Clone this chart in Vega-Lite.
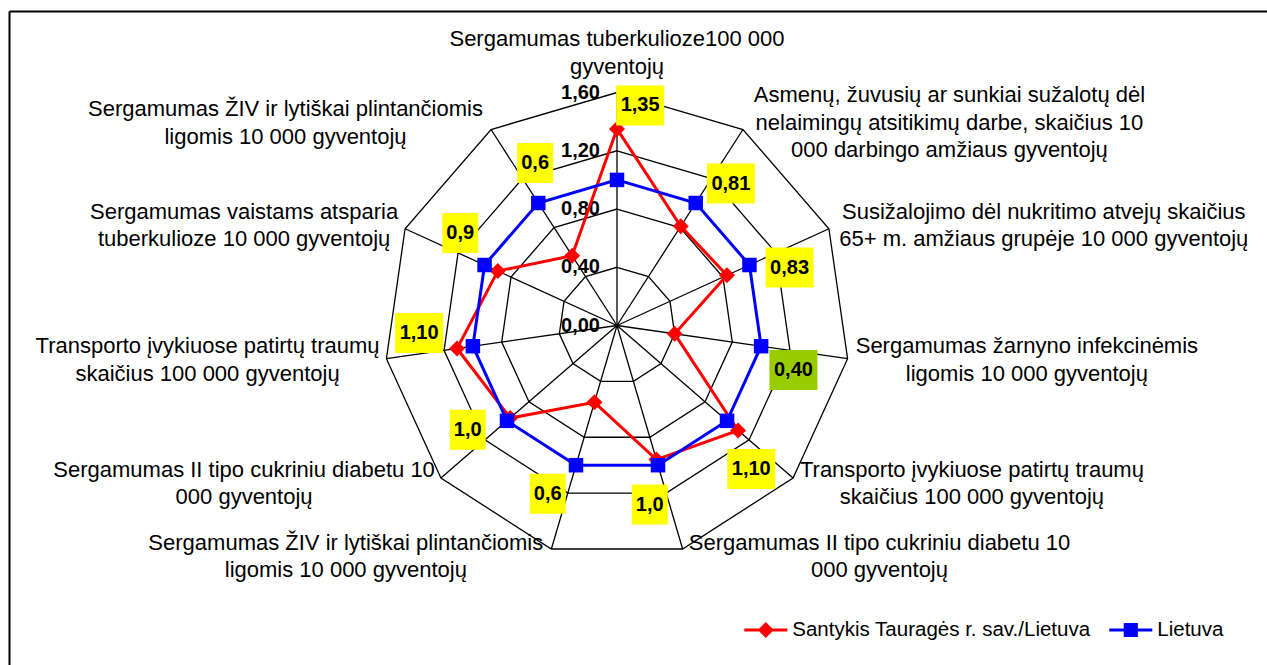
{
  "$schema": "https://vega.github.io/schema/vega-lite/v6.json",
  "width": 1258,
  "height": 654,
  "autosize": {"type": "none"},
  "padding": {"left": 9, "top": 11, "right": 0, "bottom": 0},
  "background": "white",
  "config": {"view": {"stroke": null}, "font": "Liberation Sans"},
  "datasets": {
    "cats": [
      {"idx": 0, "lines": ["Sergamumas tuberkulioze100 000", "gyventojų"]},
      {"idx": 1, "lines": ["Asmenų, žuvusių ar sunkiai sužalotų dėl", "nelaimingų atsitikimų darbe, skaičius 10", "000 darbingo amžiaus gyventojų"]},
      {"idx": 2, "lines": ["Susižalojimo dėl nukritimo atvejų skaičius", "65+ m. amžiaus grupėje 10 000 gyventojų"]},
      {"idx": 3, "lines": ["Sergamumas žarnyno infekcinėmis", "ligomis 10 000 gyventojų"]},
      {"idx": 4, "lines": ["Transporto įvykiuose patirtų traumų", "skaičius 100 000 gyventojų"]},
      {"idx": 5, "lines": ["Sergamumas II tipo cukriniu diabetu 10", "000 gyventojų"]},
      {"idx": 6, "lines": ["Sergamumas ŽIV ir lytiškai plintančiomis", "ligomis 10 000 gyventojų"]},
      {"idx": 7, "lines": ["Sergamumas II tipo cukriniu diabetu 10", "000 gyventojų"]},
      {"idx": 8, "lines": ["Transporto įvykiuose patirtų traumų", "skaičius 100 000 gyventojų"]},
      {"idx": 9, "lines": ["Sergamumas vaistams atsparia", "tuberkulioze 10 000 gyventojų"]},
      {"idx": 10, "lines": ["Sergamumas ŽIV ir lytiškai plintančiomis", "ligomis 10 000 gyventojų"]}
    ],
    "values": [
      {"series": "Santykis Tauragės r. sav./Lietuva", "idx": 0, "value": 1.35, "label": "1,35"},
      {"series": "Santykis Tauragės r. sav./Lietuva", "idx": 1, "value": 0.81, "label": "0,81"},
      {"series": "Santykis Tauragės r. sav./Lietuva", "idx": 2, "value": 0.83, "label": "0,83"},
      {"series": "Santykis Tauragės r. sav./Lietuva", "idx": 3, "value": 0.40, "label": "0,40"},
      {"series": "Santykis Tauragės r. sav./Lietuva", "idx": 4, "value": 1.10, "label": "1,10"},
      {"series": "Santykis Tauragės r. sav./Lietuva", "idx": 5, "value": 0.96, "label": "1,0"},
      {"series": "Santykis Tauragės r. sav./Lietuva", "idx": 6, "value": 0.55, "label": "0,6"},
      {"series": "Santykis Tauragės r. sav./Lietuva", "idx": 7, "value": 0.97, "label": "1,0"},
      {"series": "Santykis Tauragės r. sav./Lietuva", "idx": 8, "value": 1.11, "label": "1,10"},
      {"series": "Santykis Tauragės r. sav./Lietuva", "idx": 9, "value": 0.90, "label": "0,9"},
      {"series": "Santykis Tauragės r. sav./Lietuva", "idx": 10, "value": 0.57, "label": "0,6"},
      {"series": "Lietuva", "idx": 0, "value": 1.0},
      {"series": "Lietuva", "idx": 1, "value": 1.0},
      {"series": "Lietuva", "idx": 2, "value": 1.0},
      {"series": "Lietuva", "idx": 3, "value": 1.0},
      {"series": "Lietuva", "idx": 4, "value": 1.0},
      {"series": "Lietuva", "idx": 5, "value": 1.0},
      {"series": "Lietuva", "idx": 6, "value": 1.0},
      {"series": "Lietuva", "idx": 7, "value": 1.0},
      {"series": "Lietuva", "idx": 8, "value": 1.0},
      {"series": "Lietuva", "idx": 9, "value": 1.0},
      {"series": "Lietuva", "idx": 10, "value": 1.0}
    ],
    "rings": [
      {"level": 0.4, "idx": [0, 1, 2, 3, 4, 5, 6, 7, 8, 9, 10]},
      {"level": 0.8, "idx": [0, 1, 2, 3, 4, 5, 6, 7, 8, 9, 10]},
      {"level": 1.2, "idx": [0, 1, 2, 3, 4, 5, 6, 7, 8, 9, 10]},
      {"level": 1.6, "idx": [0, 1, 2, 3, 4, 5, 6, 7, 8, 9, 10]}
    ],
    "ticks": [{"tick": 0}, {"tick": 0.4}, {"tick": 0.8}, {"tick": 1.2}, {"tick": 1.6}]
  },
  "encoding": {
    "x": {
      "field": "x", "type": "quantitative",
      "scale": {"domain": [-4.17582, 4.46429], "nice": false, "zero": false},
      "axis": {"orient": "top", "ticks": false, "labels": false, "grid": false, "title": null, "domainColor": "black", "domainWidth": 2}
    },
    "y": {
      "field": "y", "type": "quantitative",
      "scale": {"domain": [-2.33173, 2.16003], "nice": false, "zero": false},
      "axis": {"orient": "left", "ticks": false, "labels": false, "grid": false, "title": null, "domainColor": "black", "domainWidth": 2}
    }
  },
  "layer": [
    {
      "data": {"name": "rings"},
      "transform": [
        {"flatten": ["idx"]},
        {"calculate": "datum.idx*2*PI/11", "as": "th"},
        {"calculate": "datum.level*sin(datum.th)", "as": "x"},
        {"calculate": "datum.level*cos(datum.th)", "as": "y"}
      ],
      "mark": {"type": "line", "interpolate": "linear-closed", "stroke": "black", "strokeWidth": 1.3},
      "encoding": {"detail": {"field": "level", "type": "nominal"}, "order": {"field": "idx", "type": "quantitative"}}
    },
    {
      "data": {"name": "cats"},
      "transform": [
        {"calculate": "datum.idx*2*PI/11", "as": "th"},
        {"calculate": "1.6*sin(datum.th)", "as": "x"},
        {"calculate": "1.6*cos(datum.th)", "as": "y"}
      ],
      "mark": {"type": "rule", "stroke": "black", "strokeWidth": 1.3},
      "encoding": {"x2": {"datum": 0}, "y2": {"datum": 0}}
    },
    {
      "data": {"name": "ticks"},
      "transform": [
        {"calculate": "0", "as": "x"},
        {"calculate": "datum.tick", "as": "y"},
        {"calculate": "replace(format(datum.tick, '.2f'), '.', ',')", "as": "lbl"}
      ],
      "mark": {"type": "text", "align": "right", "baseline": "middle", "dx": -17, "fontSize": 20, "fontWeight": "bold", "font": "Liberation Sans", "color": "black"},
      "encoding": {"text": {"field": "lbl", "type": "nominal"}}
    },
    {
      "data": {"name": "values"},
      "transform": [
        {"filter": "datum.series !== 'Lietuva'"},
        {"calculate": "datum.idx*2*PI/11", "as": "th"},
        {"calculate": "datum.value*sin(datum.th)", "as": "x"},
        {"calculate": "datum.value*cos(datum.th)", "as": "y"}
      ],
      "mark": {"type": "line", "interpolate": "linear-closed", "stroke": "#FF0000", "strokeWidth": 3},
      "encoding": {"order": {"field": "idx", "type": "quantitative"}}
    },
    {
      "data": {"name": "values"},
      "transform": [
        {"filter": "datum.series !== 'Lietuva'"},
        {"calculate": "datum.idx*2*PI/11", "as": "th"},
        {"calculate": "datum.value*sin(datum.th)", "as": "x"},
        {"calculate": "datum.value*cos(datum.th)", "as": "y"}
      ],
      "mark": {"type": "point", "shape": "diamond", "filled": true, "size": 256, "color": "#FF0000", "opacity": 1}
    },
    {
      "data": {"name": "values"},
      "transform": [
        {"filter": "datum.series === 'Lietuva'"},
        {"calculate": "datum.idx*2*PI/11", "as": "th"},
        {"calculate": "datum.value*sin(datum.th)", "as": "x"},
        {"calculate": "datum.value*cos(datum.th)", "as": "y"}
      ],
      "mark": {"type": "line", "interpolate": "linear-closed", "stroke": "#0000FF", "strokeWidth": 3},
      "encoding": {"order": {"field": "idx", "type": "quantitative"}}
    },
    {
      "data": {"name": "values"},
      "transform": [
        {"filter": "datum.series === 'Lietuva'"},
        {"calculate": "datum.idx*2*PI/11", "as": "th"},
        {"calculate": "datum.value*sin(datum.th)", "as": "x"},
        {"calculate": "datum.value*cos(datum.th)", "as": "y"}
      ],
      "mark": {"type": "point", "shape": "square", "filled": true, "size": 210, "color": "#0000FF", "opacity": 1}
    },
    {
      "data": {"name": "values"},
      "transform": [
        {"filter": "isValid(datum.label)"},
        {"calculate": "datum.idx*2*PI/11 + 6*PI/180", "as": "la"},
        {"calculate": "min(max(datum.value, 1) + 0.25, 1.52)", "as": "lr"},
        {"calculate": "datum.lr*sin(datum.la)", "as": "cx"},
        {"calculate": "datum.lr*cos(datum.la)", "as": "cy"},
        {"calculate": "datum.cx - length(datum.label)*6/145.6", "as": "x"},
        {"calculate": "datum.cx + length(datum.label)*6/145.6", "as": "x2b"},
        {"calculate": "datum.cy - 20/145.6", "as": "y"},
        {"calculate": "datum.cy + 20/145.6", "as": "y2b"}
      ],
      "mark": {"type": "rect", "strokeWidth": 0},
      "encoding": {
        "x2": {"field": "x2b"},
        "y2": {"field": "y2b"},
        "fill": {"condition": {"test": "datum.value < 0.5", "value": "#99CC00"}, "value": "#FFFF00"}
      }
    },
    {
      "data": {"name": "values"},
      "transform": [
        {"filter": "isValid(datum.label)"},
        {"calculate": "datum.idx*2*PI/11 + 6*PI/180", "as": "la"},
        {"calculate": "min(max(datum.value, 1) + 0.25, 1.52)", "as": "lr"},
        {"calculate": "datum.lr*sin(datum.la)", "as": "x"},
        {"calculate": "datum.lr*cos(datum.la)", "as": "y"}
      ],
      "mark": {"type": "text", "align": "center", "baseline": "middle", "fontSize": 20, "fontWeight": "bold", "font": "Liberation Sans", "color": "black"},
      "encoding": {"text": {"field": "label", "type": "nominal"}}
    },
    {
      "data": {"name": "cats"},
      "transform": [
        {"flatten": ["lines"], "as": ["line"]},
        {"window": [{"op": "row_number", "as": "ln"}], "groupby": ["idx"]},
        {"joinaggregate": [{"op": "count", "as": "nl"}], "groupby": ["idx"]},
        {"calculate": "length(datum.line) - length(replace(datum.line, regexp('[iljtfrįI ,.]', 'g'), ''))", "as": "nn"},
        {"calculate": "length(datum.line) - length(replace(datum.line, regexp('[mwMW]', 'g'), ''))", "as": "nw"},
        {"calculate": "22*(0.555*length(datum.line) - 0.29*datum.nn + 0.26*datum.nw)", "as": "wpx"},
        {"joinaggregate": [{"op": "max", "field": "wpx", "as": "W"}], "groupby": ["idx"]},
        {"calculate": "datum.idx*2*PI/11", "as": "th"},
        {"calculate": "sin(datum.th) > 0.01 ? 1 : (sin(datum.th) < -0.01 ? -1 : 0)", "as": "side"},
        {"calculate": "1.6*sin(datum.th) + datum.side*(7 + datum.W/2)/145.6", "as": "x"},
        {"calculate": "(datum.side == 0 ? 1.6 + (12 + datum.nl*27.5/2)/145.6 : (1.6 + 8/145.6)*cos(datum.th)) - (datum.ln - (datum.nl + 1)/2)*27.5/145.6", "as": "y"}
      ],
      "mark": {"type": "text", "align": "center", "baseline": "middle", "fontSize": 22, "font": "Liberation Sans", "color": "black"},
      "encoding": {"text": {"field": "line", "type": "nominal"}}
    },
    {
      "data": {"name": "values"},
      "transform": [
        {"filter": "false"},
        {"calculate": "0", "as": "x"},
        {"calculate": "0", "as": "y"}
      ],
      "mark": {"type": "point", "filled": true, "opacity": 1},
      "encoding": {
        "color": {
          "field": "series", "type": "nominal",
          "scale": {"domain": ["Santykis Tauragės r. sav./Lietuva", "Lietuva"], "range": ["#FF0000", "#0000FF"]},
          "legend": {"orient": "none", "legendX": 735.3, "legendY": 597.5, "direction": "horizontal", "title": null, "labelFontSize": 20.5, "labelFont": "Liberation Sans", "labelColor": "black", "symbolSize": 1849, "symbolStrokeWidth": 0, "columnPadding": 18, "labelOffset": 5, "labelLimit": 600, "padding": 0, "symbolOpacity": 1}
        },
        "shape": {
          "field": "series", "type": "nominal",
          "scale": {"domain": ["Santykis Tauragės r. sav./Lietuva", "Lietuva"], "range": ["M-1,-0.07H1V0.07H-1Z M0,-0.37L0.37,0L0,0.37L-0.37,0Z", "M-1,-0.07H1V0.07H-1Z M-0.33,-0.33H0.33V0.33H-0.33Z"]},
          "legend": {"orient": "none", "legendX": 735.3, "legendY": 597.5, "direction": "horizontal", "title": null, "labelFontSize": 20.5, "labelFont": "Liberation Sans", "labelColor": "black", "symbolSize": 1849, "symbolStrokeWidth": 0, "columnPadding": 18, "labelOffset": 5, "labelLimit": 600, "padding": 0, "symbolOpacity": 1}
        }
      }
    }
  ]
}
